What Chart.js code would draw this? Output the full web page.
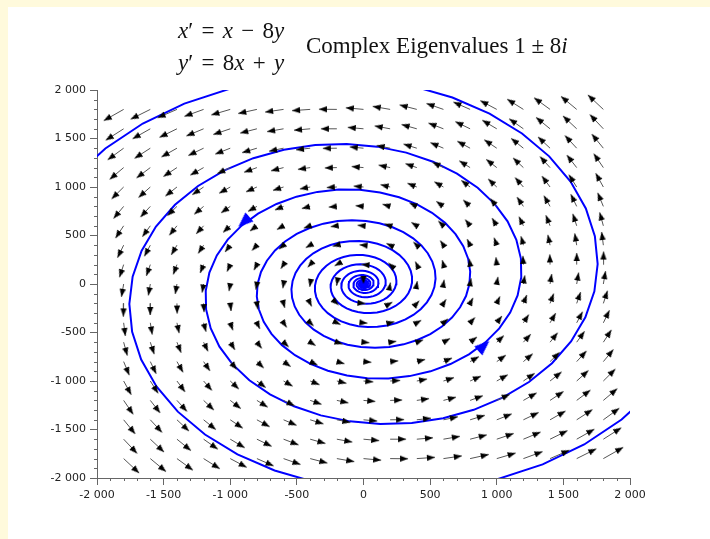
<!DOCTYPE html>
<html>
<head>
<meta charset="utf-8">
<script src="https://cdn.jsdelivr.net/npm/chart.js@4.4.0/dist/chart.umd.min.js"></script>
<style>
  html, body { margin: 0; padding: 0; background: #fffadc; }
  #wrap { position: relative; width: 710px; height: 539px; overflow: hidden; }
  #panel { position: absolute; left: 8px; top: 7px; right: 0; bottom: 0; background: #fff; }
  canvas { position: absolute; left: 0; top: 0; }
  .eq { position: absolute; font-family: "Liberation Serif", serif; font-size: 23px; line-height: 23px; color: #111; white-space: nowrap; }
  .eq i { font-style: italic; }
  .sys { word-spacing: 2.5px; }
</style>
</head>
<body>
<div id="wrap">
  <div id="panel"></div>
  <canvas id="phase" width="710" height="539"></canvas>
  <div class="eq sys" style="left:178px;top:19px"><i>x</i>′ = <i>x</i> − 8<i>y</i></div>
  <div class="eq sys" style="left:178px;top:51px"><i>y</i>′ = 8<i>x</i> + <i>y</i></div>
  <div class="eq" style="left:306px;top:34px">Complex Eigenvalues 1 ± 8<i>i</i></div>
</div>
<script>
// grid of the direction field
const gridX = [-1800, -1600, -1400, -1200, -1000, -800, -600, -400, -200, 0, 200, 400, 600, 800, 1000, 1200, 1400, 1600, 1800];
const gridY = [-1800, -1600, -1400, -1200, -1000, -800, -600, -400, -200, 0, 200, 400, 600, 800, 1000, 1200, 1400, 1600, 1800];

// x' = x - 8y, y' = 8x + y  (as in the title)
const rowX = [1, -8];
const rowY = [8, 1];
const arrowScale = 0.0092;

// the two trajectories: point at t = 0, and time span
const startX = [795, -795];
const startY = [0, 0];
const tFrom = -4.5, tTo = 1.4, tStep = 0.02;

// blue direction markers on the trajectories (tips)
const markX = [-940, 945];
const markY = [588, -586];

const majorTicks = [-2000, -1500, -1000, -500, 0, 500, 1000, 1500, 2000];
const majorLabels = ['-2 000', '-1 500', '-1 000', '-500', '0', '500', '1 000', '1 500', '2 000'];

function field(x, y) {
    return { u: rowX[0] * x + rowX[1] * y, v: rowY[0] * x + rowY[1] * y };
}

// arrow shafts and heads
const shafts = [];
const heads = [];
gridX.forEach(gx => {
    gridY.forEach(gy => {
        const f = field(gx, gy);
        const tx = gx + arrowScale * f.u;
        const ty = gy + arrowScale * f.v;
        shafts.push({ x: gx, y: gy }, { x: tx, y: ty }, { x: NaN, y: NaN });
        heads.push({ x: tx, y: ty, u: f.u, v: f.v });
    });
});

// trajectories: solution of the linear system through the start point
function trajectory(x0, y0) {
    const pts = [];
    const n = Math.round((tTo - tFrom) / tStep);
    for (let i = 0; i <= n; i++) {
        const t = tFrom + i * tStep;
        const e = Math.exp(t), c = Math.cos(8 * t), s = Math.sin(8 * t);
        pts.push({ x: e * (x0 * c - y0 * s), y: e * (x0 * s + y0 * c) });
    }
    return pts;
}
const traj1 = trajectory(startX[0], startY[0]);
const traj2 = trajectory(startX[1], startY[1]);

const marks = markX.map((x, i) => {
    const f = field(x, markY[i]);
    return { x: x, y: markY[i], u: f.u, v: f.v };
});

// arrowhead images, tip in the centre so rotation turns about the tip
function headImage(len, half, color) {
    const size = Math.ceil(len * 2 + 4);
    const c = document.createElement('canvas');
    c.width = size; c.height = size;
    const g = c.getContext('2d');
    const m = size / 2;
    g.fillStyle = color;
    g.beginPath();
    g.moveTo(m, m);
    g.lineTo(m - half, m + len);
    g.lineTo(m + half, m + len);
    g.closePath();
    g.fill();
    return c;
}
const blackHead = headImage(8, 3.1, '#000');
const blueHead = headImage(15, 6, '#0000ff');

function headRotation(c) {
    if (!c.raw) return 0;
    const xs = c.chart.scales.x, ys = c.chart.scales.y;
    const dx = xs.getPixelForValue(c.raw.x + c.raw.u) - xs.getPixelForValue(c.raw.x);
    const dy = ys.getPixelForValue(c.raw.y + c.raw.v) - ys.getPixelForValue(c.raw.y);
    return Math.atan2(dx, -dy) * 180 / Math.PI;
}

function tickLabel(v) {
    const i = majorTicks.indexOf(v);
    return i >= 0 ? majorLabels[i] : '';
}

const axisColor = '#666';

const minorTicks = {
    id: 'minorTicks',
    afterDraw(chart) {
        const g = chart.ctx, xs = chart.scales.x, ys = chart.scales.y, a = chart.chartArea;
        g.save();
        g.strokeStyle = axisColor;
        g.lineWidth = 1;
        g.beginPath();
        xs.ticks.forEach(t => {
            if (majorTicks.indexOf(t.value) < 0) {
                const px = Math.round(xs.getPixelForValue(t.value)) + 0.5;
                g.moveTo(px, a.bottom);
                g.lineTo(px, a.bottom + 3);
            }
        });
        ys.ticks.forEach(t => {
            if (majorTicks.indexOf(t.value) < 0) {
                const py = Math.round(ys.getPixelForValue(t.value)) + 0.5;
                g.moveTo(a.left, py);
                g.lineTo(a.left - 3, py);
            }
        });
        g.stroke();
        g.restore();
    }
};

function axis(isX) {
    return {
        type: 'linear',
        min: -2000,
        max: 2000,
        afterFit: s => { if (isX) s.height = 61; else s.width = 97; },
        border: { display: true, color: axisColor, width: 1 },
        grid: {
            drawOnChartArea: false,
            drawTicks: true,
            tickLength: 7,
            tickColor: c => (c.tick && majorTicks.indexOf(c.tick.value) >= 0) ? axisColor : 'rgba(0,0,0,0)'
        },
        ticks: {
            stepSize: 100,
            autoSkip: false,
            maxRotation: 0,
            padding: 4,
            color: '#222',
            font: { family: 'DejaVu Sans', size: 11 },
            callback: v => tickLabel(v)
        }
    };
}

const ctx = document.getElementById('phase').getContext('2d');
new Chart(ctx, {
    type: 'scatter',
    data: {
        datasets: [
            { label: 'marks', data: marks, pointStyle: blueHead, rotation: headRotation, pointRadius: 5, order: 0 },
            { label: 'heads', data: heads, pointStyle: blackHead, rotation: headRotation, pointRadius: 3, order: 1 },
            { label: 'shafts', data: shafts, showLine: true, spanGaps: false, borderColor: '#555', borderWidth: 1, pointRadius: 0, order: 2 },
            { label: 'traj1', data: traj1, showLine: true, borderColor: '#0000ff', borderWidth: 2, pointRadius: 0, order: 3 },
            { label: 'traj2', data: traj2, showLine: true, borderColor: '#0000ff', borderWidth: 2, pointRadius: 0, order: 4 }
        ]
    },
    options: {
        responsive: false,
        animation: false,
        devicePixelRatio: 1,
        events: [],
        layout: { padding: { top: 90, right: 80, left: 0, bottom: 0 } },
        plugins: { legend: { display: false }, tooltip: { enabled: false } },
        scales: { x: axis(true), y: axis(false) }
    },
    plugins: [minorTicks]
});
</script>
</body>
</html>
